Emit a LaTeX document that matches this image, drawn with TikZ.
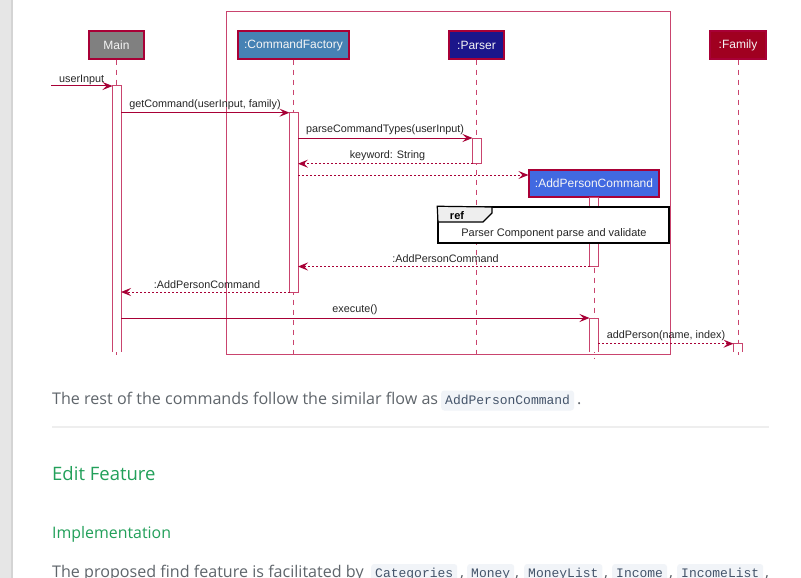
\documentclass[tikz,border=0pt]{standalone}
\usepackage{fontspec}
\setmainfont{Liberation Sans}
\newfontfamily\bodyfont{Open Sans}
\newfontfamily\codefont{Liberation Mono}
\usetikzlibrary{arrows.meta}
\definecolor{pu}{HTML}{A80036}
\definecolor{lightpu}{HTML}{C9446E}
\definecolor{mainfill}{HTML}{808080}
\definecolor{cffill}{HTML}{4682B4}
\definecolor{parserfill}{HTML}{1B168B}
\definecolor{familyfill}{HTML}{A00020}
\definecolor{apcfill}{HTML}{4169E1}
\definecolor{tabgray}{HTML}{EEEEEE}
\definecolor{bodygray}{HTML}{5F656B}
\definecolor{headgreen}{HTML}{22A05A}
\definecolor{codebg}{HTML}{F1F4F8}
\definecolor{codetext}{HTML}{44546A}
\definecolor{rulegray}{HTML}{EEEEEE}
\definecolor{sidebar}{HTML}{E6E6E6}
\definecolor{sideedge}{HTML}{D4D4D4}
\begin{document}
\begin{tikzpicture}[x=1pt,y=-1pt,
  participant/.style={draw=pu, line width=1.1pt, inner sep=0pt, minimum height=28pt,
    text=white!92!gray, font=\fontsize{12}{14}\selectfont},
  lifeline/.style={draw=lightpu, line width=1pt, dash pattern=on 5pt off 5pt},
  actbar/.style={draw=lightpu, line width=1pt, fill=white},
  msg/.style={draw=pu, line width=1pt, -{Stealth[length=10pt,width=8pt,inset=4pt]}},
  ret/.style={msg, dash pattern=on 2pt off 2pt},
  msglabel/.style={font=\fontsize{10.8}{13}\selectfont, text=black!85, inner sep=0pt},
  bodytext/.style={font=\bodyfont\fontsize{16.1}{19}\selectfont, text=bodygray, inner sep=0pt, anchor=base west},
  code/.style={font=\codefont\fontsize{13}{15}\selectfont, text=codetext, fill=codebg,
    rounded corners=3pt, inner xsep=4pt, inner ysep=3.5pt, text height=10pt, text depth=3pt, anchor=base west},
]
\useasboundingbox (0,0) rectangle (801,578);
\clip (0,0) rectangle (801,578);
\fill[white] (0,0) rectangle (801,578);
% left sidebar
\fill[sidebar] (0,0) rectangle (12,578);
\fill[sideedge] (11,0) rectangle (13,578);

% outer grouping frame
\draw[lightpu, line width=1pt] (226,12) rectangle (670,354);

% participants
\node[participant, fill=mainfill, minimum width=55pt] (main) at (116.5,45) {Main};
\node[participant, fill=cffill, minimum width=111pt] (cf) at (293.5,45) {:CommandFactory};
\node[participant, fill=parserfill, minimum width=55pt] (parser) at (476.5,45) {:Parser};
\node[participant, fill=familyfill, minimum width=56pt] (family) at (738,45) {:Family};
\node[participant, fill=apcfill, minimum width=130pt, minimum height=27pt] (apc) at (594,183.5) {:AddPersonCommand};

% lifeline ends
\coordinate (mainEnd) at (116.5,358);
\coordinate (cfEnd) at (293.5,358);
\coordinate (parserEnd) at (476.5,358);
\coordinate (familyEnd) at (738,358);
\coordinate (apcEnd) at (594,358);
\draw[lifeline] (main.south) -- (mainEnd);
\draw[lifeline] (cf.south) -- (cfEnd);
\draw[lifeline] (parser.south) -- (parserEnd);
\draw[lifeline] (family.south) -- (familyEnd);
\draw[lifeline] (apc.south) -- (apcEnd);

% activation bars
\fill[white] (112.5,86) rectangle (121,352);
\draw[lightpu, line width=1pt] (112.5,352) -- (112.5,86) -- (121,86) -- (121,352);
\draw[actbar] (289.5,112.7) rectangle (298,292);
\draw[actbar] (472.5,138) rectangle (481,163.7);
\draw[actbar] (589.5,197) rectangle (598,266.5);
\fill[white] (589.5,318) rectangle (598,352);
\draw[lightpu, line width=1pt] (589.5,352) -- (589.5,318) -- (598,318) -- (598,352);
\fill[white] (733.5,343.7) rectangle (742,352);
\draw[lightpu, line width=1pt] (733.5,352) -- (733.5,343.7) -- (742,343.7) -- (742,352);

% message end points
\coordinate (inStart) at (51,86);
\coordinate (mainIn) at (112.5,86);
\coordinate (mainGet) at (121,112.7);
\coordinate (cfGet) at (289.5,112.7);
\coordinate (cfParse) at (298,138);
\coordinate (parserParse) at (472.5,138);
\coordinate (parserKey) at (472.5,163.7);
\coordinate (cfKey) at (298,163.7);
\coordinate (cfCreate) at (298,175);
\coordinate (apcRet) at (589.5,266.5);
\coordinate (cfRet) at (298,266.5);
\coordinate (cfRet2) at (289.5,292);
\coordinate (mainRet) at (121,292);
\coordinate (mainExec) at (121,318);
\coordinate (apcExec) at (589.5,318);
\coordinate (apcAdd) at (598,343.7);
\coordinate (familyAdd) at (733.5,343.7);

% messages
\draw[msg] (inStart) -- (mainIn);
\node[msglabel] (lUser) at (81.7,79.5) {userInput};
\draw[msg] (mainGet) -- (cfGet);
\node[msglabel] (lGet) at (205,104.5) {getCommand(userInput, family)};
\draw[msg] (cfParse) -- (parserParse);
\node[msglabel] (lParse) at (385,130) {parseCommandTypes(userInput)};
\draw[ret] (parserKey) -- (cfKey);
\node[msglabel] (lKey) at (387.5,156) {keyword: String};
\draw[ret] (cfCreate) -- (apc.west |- cfCreate);

% ref frame
\node[draw=black, line width=1.5pt, fill=white, minimum width=231pt, minimum height=36pt, inner sep=0pt] (ref) at (553.5,225) {};
\draw[black, line width=1.2pt, fill=tabgray] (ref.north west) -- (492,207) -- (492,213) -- (483,222) -- (438,222) -- cycle;
\node[font=\bfseries\fontsize{11}{13}\selectfont, inner sep=0pt] (refLabel) at (457,216) {ref};
\node[font=\fontsize{11}{13}\selectfont, text=black!85, inner sep=0pt] (refText) at (554,233.3) {Parser Component parse and validate};

\draw[ret] (apcRet) -- (cfRet);
\node[msglabel] (lRet1) at (445.5,259) {:AddPersonCommand};
\draw[ret] (cfRet2) -- (mainRet);
\node[msglabel] (lRet2) at (207,284.3) {:AddPersonCommand};
\draw[msg] (mainExec) -- (apcExec);
\node[msglabel] (lExec) at (355,310) {execute()};
\draw[ret] (apcAdd) -- (familyAdd);
\node[msglabel] (lAdd) at (666,336) {addPerson(name, index)};

% page text below
\node[bodytext] (t1) at (52,404) {The rest of the commands follow the similar flow as};
\node[code] (c1) at (441,404) {AddPersonCommand};
\node[bodytext] (t1dot) at (577,404) {.};
\draw[rulegray, line width=1.6pt] (52,427) -- (769,427);
\node[bodytext, font=\bodyfont\fontsize{18.5}{22}\selectfont, text=headgreen] (h1) at (52,480.7) {Edit Feature};
\node[bodytext, font=\bodyfont\fontsize{15.9}{19}\selectfont, text=headgreen] (h2) at (52,538) {Implementation};
\node[bodytext] (t2) at (52,577.5) {The proposed find feature is facilitated by};
\node[code] (k1) at (371,577.5) {Categories};
\node[bodytext] (k1c) at (460,577.5) {,};
\node[code] (k2) at (467,577.5) {Money};
\node[bodytext] (k2c) at (515,577.5) {,};
\node[code] (k3) at (524,577.5) {MoneyList};
\node[bodytext] (k3c) at (604,577.5) {,};
\node[code] (k4) at (612,577.5) {Income};
\node[bodytext] (k4c) at (669,577.5) {,};
\node[code] (k5) at (677,577.5) {IncomeList};
\node[bodytext] (k5c) at (765,577.5) {,};
\end{tikzpicture}
\end{document}
